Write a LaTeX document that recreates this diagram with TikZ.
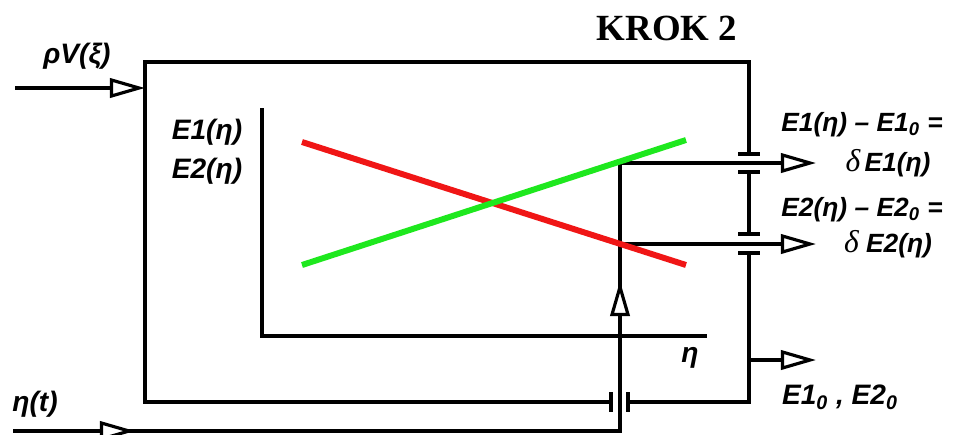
\documentclass[tikz,border=0pt]{standalone}
\usepackage{fontspec}
\setmainfont{Liberation Sans}
\newfontfamily\timesfont{Liberation Serif}
\usetikzlibrary{arrows.meta}
\definecolor{lgreen}{RGB}{30,232,30}
\definecolor{lred}{RGB}{240,22,22}
\tikzset{
  opentip/.style={-{Triangle[length=20pt,width=11pt,fill=white]}},
  lbl/.style={font=\fontsize{15}{17}\selectfont\bfseries\itshape, inner sep=0pt},
  brk/.style={line width=2.6pt},
  curve/.style={line width=3.4pt},
}
\newcommand{\dlt}{{\timesfont\mdseries\itshape\fontsize{18}{18}\selectfont δ}}
\begin{document}
\begin{tikzpicture}[x=0.02cm,y=-0.02cm,line width=1.8pt]
\useasboundingbox (0,0) rectangle (964,434);
% the block
\coordinate (tl) at (145,62);
\coordinate (tr) at (749,62);
\coordinate (bl) at (145,402);
\coordinate (br) at (749,402);
\coordinate (cut1a) at (749,154);
\coordinate (cut1b) at (749,172);
\coordinate (cut2a) at (749,234);
\coordinate (cut2b) at (749,253);
\coordinate (cut3a) at (611,402);
\coordinate (cut3b) at (628,402);
\draw (cut3a) -- (bl) -- (tl) -- (tr) -- (cut1a);
\draw (cut1b) -- (cut2a);
\draw (cut2b) -- (br) -- (cut3b);
\foreach \c in {cut1a,cut1b,cut2a,cut2b}
  \draw[brk] ([xshift=-11*0.02cm]\c) -- ([xshift=11*0.02cm]\c);
\foreach \c in {cut3a,cut3b}
  \draw[brk] ([yshift=10*0.02cm]\c) -- ([yshift=-10*0.02cm]\c);
% inputs
\coordinate (rhoin) at (15,88);
\coordinate (rhoend) at (145,88);
\draw[opentip] (rhoin) -- (rhoend);
\coordinate (etain) at (13,431);
\coordinate (etamid) at (135,431);
\coordinate (etacorner) at (620,431);
\coordinate (tap1) at (620,163);
\coordinate (tap2) at (620,244);
\coordinate (upbase) at (620,320);
\coordinate (uptip) at (620,281);
\draw (etain) -- (etacorner) -- (tap1);
\draw[opentip] (etain) -- (etamid);
\draw[opentip] (upbase) -- (uptip);
% outputs
\coordinate (out1) at (816,163);
\coordinate (out2) at (816,244);
\coordinate (out0a) at (749,360);
\coordinate (out0) at (816,360);
\draw[opentip] (tap1) -- (out1);
\draw[opentip] (tap2) -- (out2);
\draw[opentip] (out0a) -- (out0);
% axes and graphs
\coordinate (ytop) at (262,108);
\coordinate (orig) at (262,336);
\coordinate (xend) at (707,336);
\draw (ytop) -- (orig) -- (xend);
\draw[curve,lred] (302,142) -- (686,265);
\draw[curve,lgreen] (302,265) -- (686,140);
% texts
\node[font=\timesfont\bfseries\fontsize{21}{21}\selectfont, inner sep=0pt] (title) at (667,28) {KROK 2};
\node[lbl,font=\fontsize{16}{17}\selectfont\bfseries\itshape] (rho) at (77,56) {ρV(ξ)};
\node[lbl,font=\fontsize{16}{17}\selectfont\bfseries\itshape] (eta) at (35,404) {η(t)};
\node[lbl,font=\fontsize{16}{17}\selectfont\bfseries\itshape] (e1) at (207,132) {E1(η)};
\node[lbl,font=\fontsize{16}{17}\selectfont\bfseries\itshape] (e2) at (207,171) {E2(η)};
\node[lbl,font=\fontsize{16}{17}\selectfont\bfseries\itshape] (xlab) at (690,358) {η};
\node[lbl] (d1a) at (862,125) {E1(η) – E1\textsubscript{0} =};
\node[lbl] (d1b) at (888,163) {\dlt\,E1(η)};
\node[lbl] (d2a) at (862,210) {E2(η) – E2\textsubscript{0} =};
\node[lbl] (d2b) at (888,244) {\dlt\ E2(η)};
\node[lbl,font=\fontsize{16}{17}\selectfont\bfseries\itshape] (e0) at (840,397) {E1\textsubscript{0} , E2\textsubscript{0}};
\end{tikzpicture}
\end{document}
